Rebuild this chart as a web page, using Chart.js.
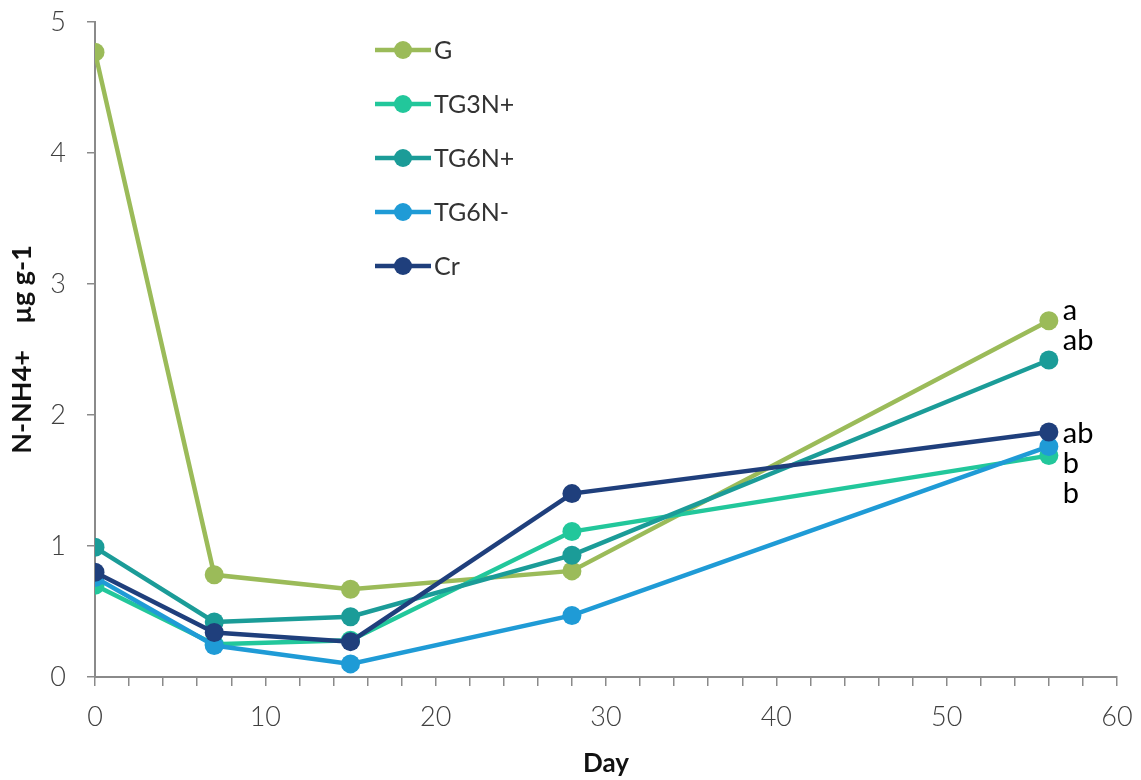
<!DOCTYPE html>
<html>
<head>
<meta charset="utf-8">
<title>N-NH4+</title>
<script src="https://cdn.jsdelivr.net/npm/chart.js@4.4.1/dist/chart.umd.min.js"></script>
<style>
  html, body { margin: 0; padding: 0; background: #fff; }
  #wrap { width: 1141px; height: 780px; }
</style>
</head>
<body>
<div id="wrap"><canvas id="chart" width="1141" height="780"></canvas></div>
<script>
const days = [0, 7, 15, 28, 56];
const seriesNames = ['G', 'TG3N+', 'TG6N+', 'TG6N-', 'Cr'];
const gValues = [4.77, 0.78, 0.67, 0.81, 2.72];
const tg3nPlusValues = [0.70, 0.25, 0.28, 1.11, 1.69];
const tg6nPlusValues = [0.99, 0.42, 0.46, 0.93, 2.42];
const tg6nMinusValues = [0.76, 0.24, 0.10, 0.47, 1.76];
const crValues = [0.80, 0.34, 0.27, 1.40, 1.87];
const seriesColors = ['#9bbb59', '#22c79b', '#1b9c98', '#1f9bd6', '#1f3f7c'];

// letters shown next to the day 56 points
const letterText = ['a', 'ab', 'ab', 'b', 'b'];
const letterLevels = [2.80, 2.57, 1.86, 1.63, 1.40];

const allValues = [gValues, tg3nPlusValues, tg6nPlusValues, tg6nMinusValues, crValues];
const axisGray = '#8a8a8a';
const fontFamily = 'Lato, "Open Sans", sans-serif';

const datasets = seriesNames.map((name, i) => ({
    label: name,
    data: days.map((d, j) => ({x: d, y: allValues[i][j]})),
    borderColor: seriesColors[i],
    backgroundColor: seriesColors[i],
    borderWidth: 4.5,
    pointRadius: 9.5,
    pointHoverRadius: 9.5,
    pointBorderWidth: 0,
    tension: 0,
    order: seriesNames.length - i  // later series drawn on top
}));

// vertical legend inside the plot area
const sideLegend = {
    id: 'sideLegend',
    afterDraw(chart) {
        const ctx = chart.ctx;
        ctx.save();
        chart.data.datasets.forEach((ds, i) => {
            const y = 50 + i * 54;
            ctx.strokeStyle = ds.borderColor;
            ctx.lineWidth = 4.5;
            ctx.beginPath();
            ctx.moveTo(375, y);
            ctx.lineTo(431, y);
            ctx.stroke();
            ctx.fillStyle = ds.borderColor;
            ctx.beginPath();
            ctx.arc(403, y, 9, 0, Math.PI * 2);
            ctx.fill();
            ctx.fillStyle = '#333';
            ctx.font = '25px ' + fontFamily;
            ctx.textAlign = 'left';
            ctx.textBaseline = 'middle';
            ctx.fillText(ds.label, 434, y + 1);
        });
        ctx.restore();
    }
};

const dayLetters = {
    id: 'dayLetters',
    afterDraw(chart) {
        const ctx = chart.ctx;
        const xs = chart.scales.x;
        const ys = chart.scales.y;
        const x = xs.getPixelForValue(days[days.length - 1]) + 14;
        ctx.save();
        ctx.fillStyle = '#000';
        ctx.font = '29px ' + fontFamily;
        ctx.textAlign = 'left';
        ctx.textBaseline = 'middle';
        letterText.forEach((t, i) => {
            ctx.fillText(t, x, ys.getPixelForValue(letterLevels[i]));
        });
        ctx.restore();
    }
};

new Chart(document.getElementById('chart'), {
    type: 'line',
    data: {datasets: datasets},
    options: {
        responsive: false,
        animation: false,
        layout: {padding: {left: 0, top: 22, right: 24, bottom: 0}},
        plugins: {
            legend: {display: false},
            tooltip: {enabled: false}
        },
        scales: {
            x: {
                type: 'linear',
                min: 0,
                max: 60,
                afterFit: scale => {
                    scale.height = 103;
                    scale.paddingLeft = 0;
                    scale.paddingRight = 0;
                },
                border: {display: true, color: axisGray, width: 2},
                grid: {display: true, drawOnChartArea: false, drawTicks: true, tickLength: 9, color: axisGray, lineWidth: 1.5},
                ticks: {
                    stepSize: 2,
                    autoSkip: false,
                    maxRotation: 0,
                    padding: 15,
                    color: '#404040',
                    font: {family: fontFamily, size: 27, weight: 300},
                    callback: v => (v % 10 === 0 ? String(v) : '')
                },
                title: {
                    display: true,
                    text: 'Day',
                    color: '#111',
                    font: {family: fontFamily, size: 26, weight: 'bold'},
                    padding: {top: 0, bottom: 1}
                }
            },
            y: {
                min: 0,
                max: 5,
                afterFit: scale => {
                    scale.width = 95;
                    scale.paddingTop = 0;
                    scale.paddingBottom = 0;
                },
                border: {display: true, color: axisGray, width: 2},
                grid: {display: true, drawOnChartArea: false, drawTicks: true, tickLength: 8, color: axisGray, lineWidth: 1.5},
                ticks: {
                    stepSize: 1,
                    padding: 21,
                    color: '#404040',
                    font: {family: fontFamily, size: 27, weight: 300}
                },
                title: {
                    display: true,
                    text: 'N-NH4+    µg g-1',
                    color: '#111',
                    font: {family: fontFamily, size: 27, weight: 'bold'},
                    padding: {top: 6, bottom: 0}
                }
            }
        }
    },
    plugins: [sideLegend, dayLetters]
});
</script>
</body>
</html>
